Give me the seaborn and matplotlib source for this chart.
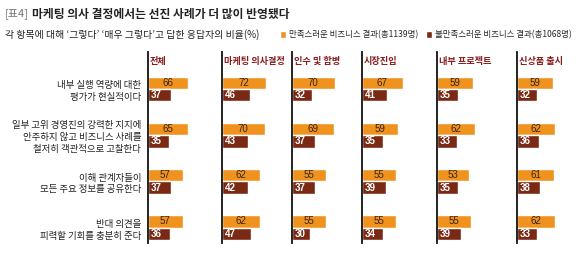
import matplotlib
matplotlib.use("Agg")
import matplotlib.pyplot as plt
import seaborn as sns
import pandas as pd

# ---- data ----
panels = ["전체", "마케팅 의사결정", "인수 및 합병", "시장진입", "내부 프로젝트", "신상품 출시"]
items = [
    "내부 실행 역량에 대한\n평가가 현실적이다",
    "일부 고위 경영진의 강력한 지지에\n안주하지 않고 비즈니스 사례를\n철저히 객관적으로 고찰한다",
    "이해 관계자들이\n모든 주요 정보를 공유한다",
    "반대 의견을\n피력할 기회를 충분히 준다",
]
groups = ["만족스러운 비즈니스 결과(총1139명)", "불만족스러운 비즈니스 결과(총1068명)"]
satisfied = {
    "전체": [66, 65, 57, 57],
    "마케팅 의사결정": [72, 70, 62, 62],
    "인수 및 합병": [70, 69, 55, 55],
    "시장진입": [67, 59, 55, 55],
    "내부 프로젝트": [59, 62, 53, 55],
    "신상품 출시": [59, 62, 61, 62],
}
unsatisfied = {
    "전체": [37, 35, 37, 36],
    "마케팅 의사결정": [46, 43, 42, 47],
    "인수 및 합병": [32, 37, 37, 30],
    "시장진입": [41, 35, 39, 34],
    "내부 프로젝트": [35, 33, 35, 39],
    "신상품 출시": [32, 36, 38, 33],
}
title_tag = "[표4]"
title_text = "마케팅 의사 결정에서는 선진 사례가 더 많이 반영됐다"
subtitle = "각 항목에 대해 ‘그렇다’ ‘매우 그렇다’고 답한 응답자의 비율(%)"

# ---- style ----
ORANGE = "#F0921E"
BROWN = "#7A2915"
PANEL_RED = "#8A1C1C"
KR = ["Noto Sans CJK KR", "DejaVu Sans"]
NUM = ["Liberation Sans Narrow", "Liberation Sans", "DejaVu Sans"]

sns.set_style("white")
plt.rcParams["font.family"] = KR

W, H = 584, 260
fig = plt.figure(figsize=(W / 100, H / 100), dpi=100)

lefts = [148, 222, 292, 362, 437, 517]
rights = lefts[1:] + [584]
scale = 0.61  # px per unit
top_px, bot_px = 52, 243

rows = []
for p in panels:
    for i, it in enumerate(items):
        rows.append({"panel": p, "item": it, "group": groups[0], "value": satisfied[p][i]})
        rows.append({"panel": p, "item": it, "group": groups[1], "value": unsatisfied[p][i]})
df = pd.DataFrame(rows)

axes = []
for k, p in enumerate(panels):
    l, r = lefts[k], rights[k]
    ax = fig.add_axes([l / W, (H - bot_px) / H, (r - l) / W, (bot_px - top_px) / H])
    d = df[df.panel == p]
    sns.barplot(data=d, x="value", y="item", hue="group", hue_order=groups,
                order=items, orient="h", palette=[ORANGE, BROWN], width=0.54,
                ax=ax, legend=(k == 0), saturation=1, errorbar=None)
    ax.set_xlim(0, (r - l) / scale)
    ax.set_ylim(3.33, -0.8)
    for s in ["top", "right", "bottom"]:
        ax.spines[s].set_visible(False)
    ax.spines["left"].set_color("#111111")
    ax.spines["left"].set_linewidth(1.3)
    ax.set_xticks([])
    ax.set_xlabel("")
    ax.set_ylabel("")
    if k == 0:
        ax.tick_params(axis="y", length=0, pad=5, labelsize=6.8, colors="#222222")
        for t in ax.get_yticklabels():
            t.set_linespacing(1.4)
    else:
        ax.set_yticks([])
    ax.text(2.5, -0.6, p, color=PANEL_RED, fontsize=6.6, fontweight="bold",
            ha="left", va="center", family=KR)
    # value labels
    for bar in ax.containers[0]:
        ax.text(bar.get_x() + bar.get_width() / 2, bar.get_y() + bar.get_height() / 2,
                f"{int(round(bar.get_width()))}", ha="center", va="center",
                color="#3a2410", fontsize=7, family=NUM)
    for bar in ax.containers[1]:
        ax.text(5, bar.get_y() + bar.get_height() / 2,
                f"{int(round(bar.get_width()))}", ha="left", va="center",
                color="white", fontsize=7, family=NUM, fontweight="bold")
    axes.append(ax)

# legend
handles, labels = axes[0].get_legend_handles_labels()
axes[0].get_legend().remove()
fig.legend(handles, labels, loc="center left", bbox_to_anchor=(280 / W, 1 - 35 / H),
           ncol=2, frameon=False, fontsize=6.1, handlelength=0.75, handleheight=0.75,
           handletextpad=0.3, columnspacing=0.9, borderaxespad=0, borderpad=0)

# title
fig.canvas.draw()
renderer = fig.canvas.get_renderer()
t1 = fig.text(5 / W, 1 - 14 / H, title_tag, color="#777777", fontsize=8.0,
              ha="left", va="center")
ext = t1.get_window_extent(renderer)
fig.text((ext.x1 + 3) / W, 1 - 14 / H, title_text, color="#222222", fontsize=8.5,
         fontweight="bold", ha="left", va="center")
fig.text(5 / W, 1 - 35 / H, subtitle, color="#222222", fontsize=7.1,
         ha="left", va="center")

fig.savefig("out.png", dpi=100)
